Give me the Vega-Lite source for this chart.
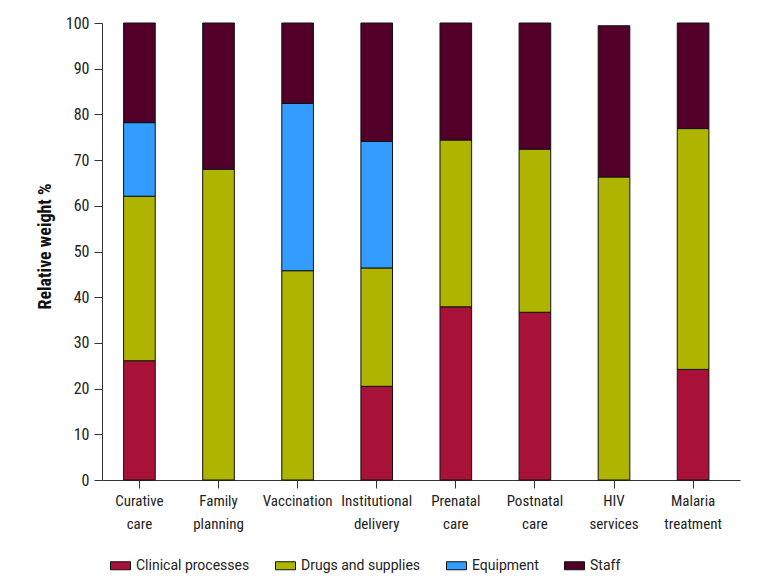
{
  "$schema": "https://vega.github.io/schema/vega-lite/v6.json",
  "autosize": "none",
  "width": 638,
  "height": 457,
  "padding": {"left": 102, "top": 23, "right": 31, "bottom": 107},
  "background": "white",
  "config": {
    "view": {"stroke": null},
    "font": "Roboto Condensed, Roboto, sans-serif",
    "axis": {
      "domainColor": "#333333",
      "tickColor": "#333333",
      "labelColor": "#222222",
      "labelFont": "Roboto Condensed, Roboto, sans-serif",
      "titleFont": "Roboto Condensed, Roboto, sans-serif",
      "labelFontSize": 16,
      "grid": false,
      "tickSize": 8
    },
    "legend": {
      "labelFont": "Roboto, sans-serif"
    }
  },
  "data": {
    "values": [
      {"service": "Curative|care", "component": "Clinical processes", "weight": 26.1},
      {"service": "Curative|care", "component": "Drugs and supplies", "weight": 36.0},
      {"service": "Curative|care", "component": "Equipment", "weight": 16.1},
      {"service": "Curative|care", "component": "Staff", "weight": 21.8},
      {"service": "Family|planning", "component": "Drugs and supplies", "weight": 68.0},
      {"service": "Family|planning", "component": "Staff", "weight": 32.0},
      {"service": "Vaccination", "component": "Drugs and supplies", "weight": 45.8},
      {"service": "Vaccination", "component": "Equipment", "weight": 36.6},
      {"service": "Vaccination", "component": "Staff", "weight": 17.6},
      {"service": "Institutional|delivery", "component": "Clinical processes", "weight": 20.5},
      {"service": "Institutional|delivery", "component": "Drugs and supplies", "weight": 25.9},
      {"service": "Institutional|delivery", "component": "Equipment", "weight": 27.7},
      {"service": "Institutional|delivery", "component": "Staff", "weight": 25.9},
      {"service": "Prenatal|care", "component": "Clinical processes", "weight": 37.9},
      {"service": "Prenatal|care", "component": "Drugs and supplies", "weight": 36.5},
      {"service": "Prenatal|care", "component": "Staff", "weight": 25.6},
      {"service": "Postnatal|care", "component": "Clinical processes", "weight": 36.7},
      {"service": "Postnatal|care", "component": "Drugs and supplies", "weight": 35.7},
      {"service": "Postnatal|care", "component": "Staff", "weight": 27.6},
      {"service": "HIV|services", "component": "Drugs and supplies", "weight": 66.3},
      {"service": "HIV|services", "component": "Staff", "weight": 33.1},
      {"service": "Malaria|treatment", "component": "Clinical processes", "weight": 24.2},
      {"service": "Malaria|treatment", "component": "Drugs and supplies", "weight": 52.7},
      {"service": "Malaria|treatment", "component": "Staff", "weight": 23.1}
    ]
  },
  "mark": {"type": "bar", "stroke": "#111111", "strokeWidth": 1},
  "encoding": {
    "x": {
      "field": "service",
      "type": "nominal",
      "sort": null,
      "scale": {"paddingInner": 0.6, "paddingOuter": 0.333, "align": 0.41},
      "axis": {
        "title": null,
        "labelAngle": 0,
        "labelFontSize": 15,
        "labelExpr": "split(datum.label, '|')",
        "labelLineHeight": 23,
        "labelPadding": 5,
        "labelBaseline": "top"
      }
    },
    "y": {
      "field": "weight",
      "type": "quantitative",
      "stack": "zero",
      "scale": {"domain": [0, 100], "nice": false},
      "axis": {
        "title": "Relative weight %",
        "values": [0, 10, 20, 30, 40, 50, 60, 70, 80, 90, 100],
        "labelPadding": 5,
        "titleFontSize": 18,
        "titleFontWeight": "bold",
        "titleColor": "#111111",
        "titleX": -57,
        "titleY": 223,
        "titleAlign": "center",
        "titleBaseline": "middle",
        "titleAngle": -90
      }
    },
    "color": {
      "field": "component",
      "type": "nominal",
      "scale": {
        "domain": ["Clinical processes", "Drugs and supplies", "Equipment", "Staff"],
        "range": ["#A81238", "#AFB400", "#339DFF", "#52002A"]
      },
      "legend": {
        "title": null,
        "orient": "none",
        "direction": "horizontal",
        "legendX": 8,
        "legendY": 532,
        "symbolType": "M-1,-0.4H1V0.4H-1Z",
        "symbolSize": 400,
        "symbolStrokeColor": "#111111",
        "symbolStrokeWidth": 1,
        "symbolOpacity": 1,
        "labelFontSize": 14,
        "labelColor": "#222222",
        "labelOffset": 5,
        "columnPadding": 23
      }
    },
    "order": {"field": "component", "sort": "ascending"}
  }
}
